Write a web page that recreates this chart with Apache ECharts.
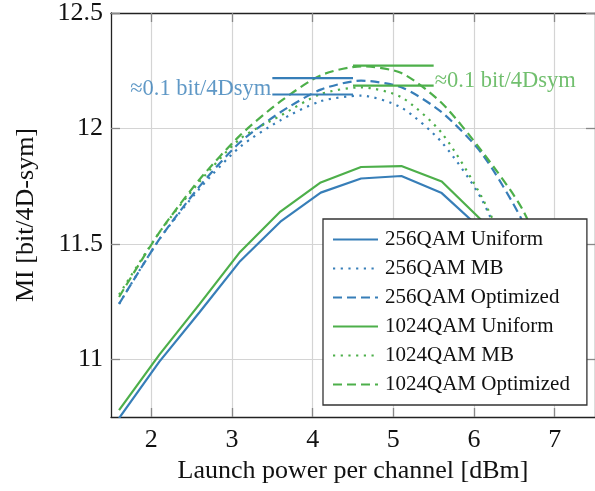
<!DOCTYPE html>
<html><head><meta charset="utf-8">
<script src="https://cdn.jsdelivr.net/npm/echarts@6/dist/echarts.min.js"></script>
<style>html,body{margin:0;padding:0;background:#fff}#c{width:595px;height:491px}</style>
</head><body><div id="c"></div>
<script>
// ---- data ----
const power = [1.6, 2.1, 2.6, 3.1, 3.6, 4.1, 4.6, 5.1, 5.6, 6.1, 6.6, 7.1];
const qam256Uniform  = [10.745, 10.99, 11.205, 11.425, 11.596, 11.722, 11.783, 11.794, 11.72, 11.56, 11.25, 10.85];
const qam256MB       = [11.24, 11.52, 11.74, 11.92, 12.035, 12.118, 12.142, 12.09, 11.94, 11.69, 11.28, 10.84];
const qam256Opt      = [11.24, 11.52, 11.75, 11.94, 12.07, 12.168, 12.207, 12.178, 12.07, 11.89, 11.60, 11.2];
const qam1024Uniform = [10.78, 11.02, 11.24, 11.465, 11.64, 11.766, 11.833, 11.837, 11.77, 11.60, 11.30, 10.9];
const qam1024MB      = [11.28, 11.55, 11.77, 11.955, 12.055, 12.149, 12.178, 12.135, 11.98, 11.70, 11.32, 10.88];
const qam1024Opt     = [11.27, 11.55, 11.78, 11.97, 12.117, 12.23, 12.269, 12.24, 12.11, 11.90, 11.65, 11.25];
const seriesNames = ['256QAM Uniform', '256QAM MB', '256QAM Optimized', '1024QAM Uniform', '1024QAM MB', '1024QAM Optimized'];
const xTicks = [2, 3, 4, 5, 6, 7];
const yTicks = [11, 11.5, 12, 12.5];
const gap256X = [3.5, 4.5];
const gap256Y = [12.147, 12.218];
const gap1024X = [4.5, 5.5];
const gap1024Y = [12.185, 12.272];
const gapLabel = '≈0.1 bit/4Dsym';
const label256Y = 12.17;
const label1024Y = 12.205;

// ---- styling ----
const BLUE = '#377EB8', GREEN = '#4DAF4A';
const FONT = 'Liberation Serif';
const zip = (xs, ys) => xs.map((x, i) => [x, ys[i]]);

function curve(name, ys, color, type) {
  return {
    name, type: 'line', data: zip(power, ys), symbol: 'none', smooth: type === 'solid' ? false : 0.25,
    lineStyle: { color, width: 2.2, type: type === 'dotted' ? [2.2, 5.5] : type === 'dashed' ? [9, 5] : 'solid' },
    itemStyle: { color }, z: 3, silent: true
  };
}
function hline(xs, y, color) {
  return { type: 'line', data: xs.map(x => [x, y]), symbol: 'none', silent: true,
    lineStyle: { color, width: 2.2 }, z: 4 };
}
function note(x, y, color, pos) {
  return { type: 'scatter', data: [[x, y]], symbolSize: 0, silent: true, z: 5,
    label: { show: true, position: pos, distance: 1, formatter: gapLabel,
      fontFamily: FONT, fontSize: 22.5, color } };
}

const axisLineStyle = { color: '#222', width: 1.3 };
const tickStyle = { color: '#888', width: 1.3 };
const gridStyle = { color: '#d4d4d4', width: 1.2 };

const chart = echarts.init(document.getElementById('c'), null, { renderer: 'canvas' });
chart.setOption({
  animation: false,
  backgroundColor: '#fff',
  grid: { left: 111, top: 12, right: -6, bottom: 74, containLabel: false },
  xAxis: [
    { type: 'value', min: 1.5, max: 7.5, position: 'bottom',
      axisLine: { show: true, onZero: false, lineStyle: axisLineStyle },
      axisTick: { show: true, inside: true, length: 9, customValues: xTicks, lineStyle: tickStyle },
      axisLabel: { customValues: xTicks, margin: 10, fontFamily: FONT, fontSize: 26, color: '#111' },
      splitLine: { show: true, lineStyle: gridStyle },
      name: 'Launch power per channel [dBm]', nameLocation: 'middle', nameGap: 40,
      nameTextStyle: { fontFamily: FONT, fontSize: 26, color: '#111' } },
    { type: 'value', min: 1.5, max: 7.5, position: 'top',
      axisLine: { show: true, onZero: false, lineStyle: axisLineStyle },
      axisTick: { show: true, inside: true, length: 9, customValues: xTicks, lineStyle: tickStyle },
      axisLabel: { show: false }, splitLine: { show: false } }
  ],
  yAxis: [
    { type: 'value', min: 10.75, max: 12.5, position: 'left',
      axisLine: { show: true, onZero: false, lineStyle: axisLineStyle },
      axisTick: { show: true, inside: true, length: 9, customValues: yTicks, lineStyle: tickStyle },
      axisLabel: { customValues: yTicks, margin: 8, fontFamily: FONT, fontSize: 26, color: '#111' },
      splitLine: { show: true, lineStyle: gridStyle },
      name: 'MI [bit/4D-sym]', nameLocation: 'middle', nameGap: 72, nameRotate: 90,
      nameTextStyle: { fontFamily: FONT, fontSize: 26, color: '#111' } },
    { type: 'value', min: 10.75, max: 12.5, position: 'right',
      axisLine: { show: true, onZero: false, lineStyle: axisLineStyle },
      axisTick: { show: true, inside: true, length: 9, customValues: yTicks, lineStyle: tickStyle },
      axisLabel: { show: false }, splitLine: { show: false } }
  ],
  legend: {
    data: seriesNames, orient: 'vertical', left: 323, top: 219,
    padding: [10, 17, 10, 9], itemGap: 8, itemWidth: 45, itemHeight: 14,
    backgroundColor: '#fff', borderColor: '#333', borderWidth: 1.3, borderRadius: 0,
    itemStyle: { opacity: 0 },
    textStyle: { fontFamily: FONT, fontSize: 21, color: '#111', lineHeight: 21, padding: [0, 0, 0, 2] },
    z: 10
  },
  series: [
    curve(seriesNames[0], qam256Uniform, BLUE, 'solid'),
    curve(seriesNames[1], qam256MB, BLUE, 'dotted'),
    curve(seriesNames[2], qam256Opt, BLUE, 'dashed'),
    curve(seriesNames[3], qam1024Uniform, GREEN, 'solid'),
    curve(seriesNames[4], qam1024MB, GREEN, 'dotted'),
    curve(seriesNames[5], qam1024Opt, GREEN, 'dashed'),
    hline(gap256X, gap256Y[0], BLUE),
    hline(gap256X, gap256Y[1], BLUE),
    hline(gap1024X, gap1024Y[0], GREEN),
    hline(gap1024X, gap1024Y[1], GREEN),
    note(gap256X[0], label256Y, BLUE, 'left'),
    note(gap1024X[1], label1024Y, GREEN, 'right')
  ]
});
</script></body></html>
